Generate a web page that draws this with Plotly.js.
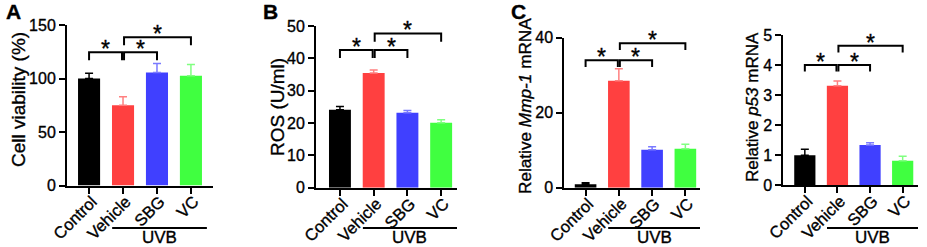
<!DOCTYPE html>
<html>
<head>
<meta charset="utf-8">
<script src="https://cdn.plot.ly/plotly-3.0.1.min.js"></script>
<style>
html,body{margin:0;padding:0;background:#fff;}
#chart{width:927px;height:247px;}
#chart text{stroke:#000;stroke-width:0.35px;}
</style>
</head>
<body>
<div id="chart"></div>
<script>
// ---- data ----
const categories = ['Control', 'Vehicle', 'SBG', 'VC'];
const viability = [100, 75, 105.5, 102.5];
const viabilityErr = [5, 8, 8.5, 10.5];
const ros = [24.1, 35.5, 23.2, 20.1];
const rosErr = [1.0, 0.9, 0.7, 0.9];
const mmp1 = [0.9, 28.5, 10.1, 10.4];
const mmp1Err = [0.4, 3.2, 0.8, 1.2];
const p53 = [0.99, 3.31, 1.33, 0.81];
const p53Err = [0.2, 0.16, 0.08, 0.15];
// significance brackets: [from, to, level, tickBottom]
const sigA = [[0, 0.97, 124.5, 117], [1.03, 2, 124.5, 117], [1.03, 3, 138.5, 131]];
const sigB = [[0, 0.97, 42.6, 40.1], [1.03, 2, 42.6, 40.1], [1.03, 3, 47.7, 45.1]];
const sigC = [[0, 0.97, 34.0, 32.2], [1.03, 2, 34.0, 32.2], [1.03, 3, 38.5, 36.7]];
const sigD = [[0, 0.97, 4.0, 3.78], [1.03, 2, 4.0, 3.78], [1.03, 3, 4.64, 4.42]];

const barColors = ['#000000', '#ff4040', '#4040ff', '#40ff40'];
const errColors = ['#000000', '#ff8080', '#7a7aff', '#80ff80'];
const FONT = 'Liberation Sans, Arial, Helvetica, sans-serif';
const W = 927, H = 247;

const panels = [
  {vals: viability, err: viabilityErr, sig: sigA, px: [67, 213], py: [25, 185.5], xr: [-0.65, 3.65], yr: [0, 150], tv: [0, 50, 100, 150],
   title: 'Cell viability (%)', tsize: 19, tx: 18, ty: 100, label: 'A', lx: 4},
  {vals: ros, err: rosErr, sig: sigB, px: [316, 457], py: [26, 187.7], xr: [-0.71, 3.47], yr: [0, 50], tv: [0, 10, 20, 30, 40, 50],
   title: 'ROS (U/ml)', tsize: 19, tx: 277, ty: 107, label: 'B', lx: 261},
  {vals: mmp1, err: mmp1Err, sig: sigC, px: [564.3, 700], py: [37.7, 187.7], xr: [-0.64, 3.44], yr: [0, 40], tv: [0, 20, 40],
   title: 'Relative <i>Mmp-1</i> mRNA', tsize: 17.2, tx: 525, ty: 106, label: 'C', lx: 509},
  {vals: p53, err: p53Err, sig: sigD, px: [783.3, 918], py: [35, 185], xr: [-0.66, 3.47], yr: [0, 5], tv: [0, 1, 2, 3, 4, 5],
   title: 'Relative <i>p53</i> mRNA', tsize: 17, tx: 752, ty: 107, label: '', lx: 0}
];

const data = [], shapes = [], annotations = [];
const layout = {
  width: W, height: H, autosize: false,
  margin: {l: 0, r: 0, t: 0, b: 0},
  paper_bgcolor: '#fff', plot_bgcolor: 'rgba(0,0,0,0)',
  showlegend: false, font: {family: FONT, color: '#000'},
  barmode: 'overlay',
  shapes: shapes, annotations: annotations
};

panels.forEach((p, i) => {
  const n = i + 1;
  const sfx = n === 1 ? '' : String(n);
  const xa = 'x' + sfx, ya = 'y' + sfx;
  categories.forEach((c, k) => {
    data.push({
      type: 'bar', x: [k], y: [p.vals[k]], xaxis: xa, yaxis: ya,
      width: 0.65, marker: {color: barColors[k], line: {width: 0}},
      error_y: {type: 'data', symmetric: false, array: [p.err[k]], arrayminus: [0], color: errColors[k], thickness: 1.5, width: 4},
      hoverinfo: 'skip'
    });
  });
  layout['xaxis' + sfx] = {
    type: 'linear', domain: [p.px[0] / W, p.px[1] / W], anchor: ya, range: p.xr, fixedrange: true,
    tickmode: 'array', tickvals: categories.map((c, k) => k), ticktext: categories, tickangle: -45,
    ticklabelstandoff: -8, ticklabelshift: 3,
    showline: true, linewidth: 2, linecolor: '#000', ticks: 'outside', ticklen: 6, tickwidth: 2, tickcolor: '#000',
    showgrid: false, zeroline: false, tickfont: {family: FONT, size: 16.5, color: '#000'}
  };
  layout['yaxis' + sfx] = {
    domain: [1 - p.py[1] / H, 1 - p.py[0] / H], anchor: xa, range: p.yr, fixedrange: true,
    tickmode: 'array', tickvals: p.tv,
    showline: true, linewidth: 2, linecolor: '#000', ticks: 'outside', ticklen: 6, tickwidth: 2, tickcolor: '#000',
    showgrid: false, zeroline: false, tickfont: {family: FONT, size: 16, color: '#000'}
  };
  // brackets + stars
  p.sig.forEach(s => {
    shapes.push({type: 'path', xref: xa, yref: ya,
      path: `M ${s[0]},${s[3]} L ${s[0]},${s[2]} L ${s[1]},${s[2]} L ${s[1]},${s[3]}`,
      line: {color: '#000', width: 2}});
    annotations.push({xref: xa, yref: ya, x: (s[0] + s[1]) / 2, y: s[2], text: '*', showarrow: false,
      yanchor: 'middle', yshift: 3, font: {family: FONT, size: 23, color: '#000'}});
  });
  // UVB line and label
  shapes.push({type: 'line', xref: xa, yref: 'paper', x0: 0.68, x1: 3.47, y0: 1 - 228 / H, y1: 1 - 228 / H,
    line: {color: '#000', width: 2}});
  annotations.push({xref: xa, yref: 'paper', x: 2.07, y: 1 - 237.5 / H, text: 'UVB', showarrow: false,
    yanchor: 'middle', font: {family: FONT, size: 17, color: '#000'}});
  // y title
  annotations.push({xref: 'paper', yref: 'paper', x: p.tx / W, y: 1 - p.ty / H, text: p.title, textangle: -90,
    showarrow: false, xanchor: 'center', yanchor: 'middle', font: {family: FONT, size: p.tsize, color: '#000'}});
  if (p.label) {
    annotations.push({xref: 'paper', yref: 'paper', x: p.lx / W, y: 1, xanchor: 'left', yanchor: 'top', yshift: 2,
      text: '<b>' + p.label + '</b>', showarrow: false, font: {family: FONT, size: 21, color: '#000'}});
  }
});

Plotly.newPlot('chart', data, layout, {staticPlot: true, displayModeBar: false});
</script>
</body>
</html>
